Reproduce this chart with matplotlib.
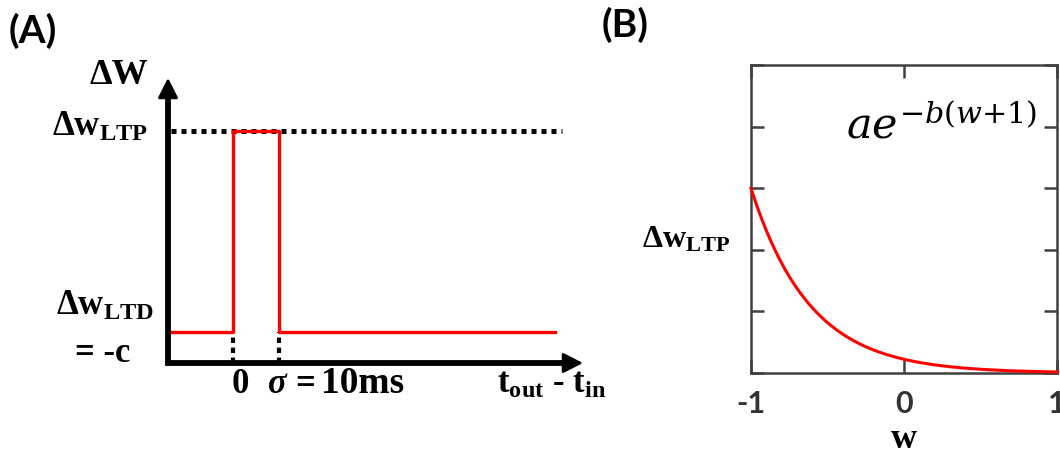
import numpy as np
import matplotlib
matplotlib.use("Agg")
import matplotlib.pyplot as plt

# serif bold for the symbol labels, mathtext mapped onto the same face
plt.rcParams['mathtext.fontset'] = 'custom'
plt.rcParams['mathtext.rm'] = 'Liberation Serif:bold'
plt.rcParams['mathtext.bf'] = 'Liberation Serif:bold'
plt.rcParams['mathtext.it'] = 'Liberation Serif:italic:bold'

SERIF = 'Liberation Serif'
SANS = 'Lato'
RED = '#ff0000'
GREY = '#404040'

# (A) rectangular STDP window, schematic units
sigma = 10.0            # ms, width of the LTP window
dw_ltp = 1.0            # potentiation level
dw_ltd = 0.134          # depression level (= -c)
t_start = -14.1         # where the time axis starts
t_end = 70.0            # end of the drawn rule
t_dotted_end = 71.5
t_axis_end = 76.0
dw_axis_top = 1.228

step_t = [t_start, 0, 0, sigma, sigma, t_end]
step_dw = [dw_ltd, dw_ltd, dw_ltp, dw_ltp, dw_ltd, dw_ltd]

# (B) weight-dependent LTP amplitude a*exp(-b(w+1))
a_coef = 3.0
b_coef = 2.6
w_vals = np.linspace(-1, 1, 200)
ltp_vals = a_coef * np.exp(-b_coef * (w_vals + 1))
w_ticks = [-1, 0, 1]
w_ticklabels = ['-1', '0', '1']
ltp_ticks = [0, 1, 2, 3, 4, 5]

W, H = 1060, 455
fig = plt.figure(figsize=(W / 100, H / 100), dpi=100)


def fx(px):
    return px / W


def fy(py):
    return 1 - py / H


# ---------------- panel A ----------------
ax = fig.add_axes([fx(168), fy(363), (583 - 168) / W, (363 - 78) / H])
ax.set_xlim(t_start, t_axis_end)
ax.set_ylim(0, dw_axis_top)
ax.axis('off')

# dotted LTP reference level
ax.plot([t_start + 0.6, t_dotted_end], [dw_ltp, dw_ltp], color='k', lw=3.6,
        linestyle=(0, (1, 1)), dash_capstyle='butt', clip_on=False, zorder=2)
# dotted drops from the window edges to the time axis
for t0 in [0, sigma]:
    ax.plot([t0, t0], [0, dw_ltd], color='k', lw=3.0,
            linestyle=(0, (1.3, 1.1)), dash_capstyle='butt', clip_on=False, zorder=2)

ax.plot(step_t, step_dw, color=RED, lw=2.4, clip_on=False, zorder=3)

# axes with arrow heads
ax.plot([t_start, t_start, t_axis_end - 2], [dw_axis_top - 0.05, 0, 0], color='k', lw=4.2,
        solid_joinstyle='miter', solid_capstyle='projecting', clip_on=False, zorder=4)
head = dict(arrowstyle='-|>,head_length=0.55,head_width=0.28', color='k', lw=2,
            shrinkA=0, shrinkB=0, mutation_scale=22)
ax.annotate('', xy=(t_start, dw_axis_top), xytext=(t_start, dw_axis_top - 0.1),
            arrowprops=head, annotation_clip=False)
ax.annotate('', xy=(t_axis_end, 0), xytext=(t_axis_end - 3, 0),
            arrowprops=head, annotation_clip=False)

fig.text(fx(148), fy(76), 'ΔW', family=SERIF, weight='bold', fontsize=26,
         ha='right', va='center')
fig.text(fx(148), fy(136), r'$\mathrm{Δw}_{\mathrm{LTP}}$', fontsize=25,
         ha='right', va='baseline')
fig.text(fx(154), fy(315), r'$\mathrm{Δw}_{\mathrm{LTD}}$', fontsize=25,
         ha='right', va='baseline')
fig.text(fx(103), fy(362), '= -c', family=SERIF, weight='bold', fontsize=25,
         ha='center', va='baseline')

fig.text(fx(240), fy(393), '0', family=SERIF, weight='bold', fontsize=25,
         ha='center', va='baseline')
fig.text(fx(268), fy(393), 'σ', family=SERIF, weight='bold', style='italic',
         fontsize=25, ha='left', va='baseline')
fig.text(fx(295), fy(393), '=', family=SERIF, weight='bold', fontsize=25,
         ha='left', va='baseline')
fig.text(fx(321), fy(393), '10ms', family=SERIF, weight='bold', fontsize=27,
         ha='left', va='baseline')
fig.text(fx(497), fy(393), r'$\mathrm{t}_{\mathrm{out}}$ - $\mathrm{t}_{\mathrm{in}}$',
         family=SERIF, weight='bold', fontsize=25, ha='left', va='baseline')

fig.text(fx(9), fy(31), '(A)', family=SANS, weight='bold', fontsize=28,
         ha='left', va='center')

# ---------------- panel B ----------------
bx = fig.add_axes([fx(751), fy(373), (1057 - 751) / W, (373 - 65) / H])
bx.plot(w_vals, ltp_vals, color=RED, lw=2.2, clip_on=False, zorder=3)
bx.set_xlim(-1, 1)
bx.set_ylim(0, 5)
bx.set_xticks(w_ticks)
bx.set_xticklabels(w_ticklabels)
bx.set_yticks(ltp_ticks)
bx.set_yticklabels([])
for s in bx.spines.values():
    s.set_color(GREY)
    s.set_linewidth(1.8)
bx.tick_params(direction='in', length=9.5, width=1.8, color=GREY,
               top=True, right=True, labelleft=False, pad=12)
for lab in bx.get_xticklabels():
    lab.set_family(SANS)
    lab.set_weight('bold')
    lab.set_fontsize(22)
    lab.set_color('#333333')

bx.set_xlabel('w', family=SERIF, weight='bold', fontsize=26, labelpad=4)
bx.set_ylabel(r'$\mathrm{Δw}_{\mathrm{LTP}}$', fontsize=23, rotation=0,
              ha='right', va='center')
bx.yaxis.set_label_coords(-0.068, 0.435)
bx.text(0.935, 0.80, r'$ae^{-b(w{+}1)}$', transform=bx.transAxes, fontsize=31,
        math_fontfamily='dejavuserif', ha='right', va='center')

fig.text(fx(602), fy(25), '(B)', family=SANS, weight='bold', fontsize=28,
         ha='left', va='center')

fig.savefig('out.png', dpi=100)
